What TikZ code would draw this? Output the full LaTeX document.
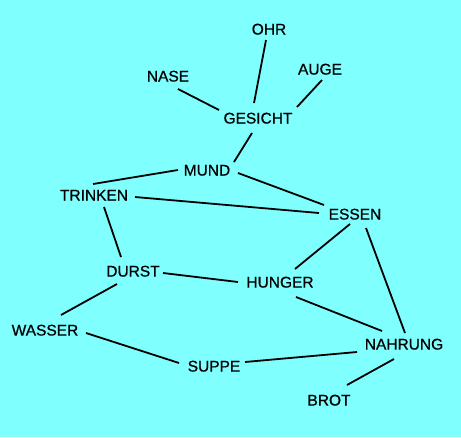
\documentclass[tikz,border=0pt]{standalone}
\usepackage{fontspec}
\setmainfont{Liberation Sans}
\newfontfamily\heavyfont[FakeBold=0.7]{Liberation Sans}
\usetikzlibrary{calc}
\definecolor{bgcyan}{RGB}{128,255,255}
\begin{document}
\begin{tikzpicture}[x=1pt,y=-1pt,
  word/.style={inner sep=0pt,text height=11.1pt,text depth=0pt,font=\heavyfont\fontsize{15.5pt}{16pt}\selectfont},
  link/.style={line width=1.8pt,black}]
\fill[bgcyan] (0,0) rectangle (461,437);
\useasboundingbox (0,0) rectangle (461,437);
\node[word] (ohr) at (269,29) {OHR};
\node[word] (nase) at (168,76) {NASE};
\node[word] (auge) at (320,69) {AUGE};
\node[word] (gesicht) at (258,118) {GESICHT};
\node[word] (mund) at (207,170) {MUND};
\node[word] (trinken) at (94,195) {TRINKEN};
\node[word] (essen) at (355,214) {ESSEN};
\node[word] (durst) at (133,271) {DURST};
\node[word] (hunger) at (280,282) {HUNGER};
\node[word] (wasser) at (45,330) {WASSER};
\node[word] (nahrung) at (404,344) {NAHRUNG};
\node[word] (suppe) at (214,366) {SUPPE};
\node[word] (brot) at (329,400) {BROT};
\draw[link] ($(ohr)+(-3,11)$) -- ($(gesicht)+(-4,-15)$);
\draw[link] ($(nase)+(10,13)$) -- ($(gesicht)+(-39,-8)$);
\draw[link] ($(auge)+(2,11)$) -- ($(gesicht)+(39,-11)$);
\draw[link] ($(gesicht)+(-6,15)$) -- ($(mund)+(27,-8)$);
\draw[link] ($(mund)+(-29,0)$) -- ($(trinken)+(-1,-11)$);
\draw[link] ($(mund)+(31,3)$) -- ($(essen)+(-31,-9)$);
\draw[link] ($(trinken)+(41,2)$) -- ($(essen)+(-36,-1)$);
\draw[link] ($(trinken)+(10,12)$) -- ($(durst)+(-12,-14)$);
\draw[link] ($(essen)+(-5,10)$) -- ($(hunger)+(15,-13)$);
\draw[link] ($(essen)+(11,14)$) -- ($(nahrung)+(1,-11)$);
\draw[link] ($(durst)+(30,2)$) -- ($(hunger)+(-42,0)$);
\draw[link] ($(durst)+(-16,13)$) -- ($(wasser)+(16,-15)$);
\draw[link] ($(hunger)+(16,15)$) -- ($(nahrung)+(-22,-13)$);
\draw[link] ($(wasser)+(41,3)$) -- ($(suppe)+(-35,-3)$);
\draw[link] ($(suppe)+(31,-4)$) -- ($(nahrung)+(-47,8)$);
\draw[link] ($(nahrung)+(-10,15)$) -- ($(brot)+(18,-15)$);
\end{tikzpicture}
\end{document}
